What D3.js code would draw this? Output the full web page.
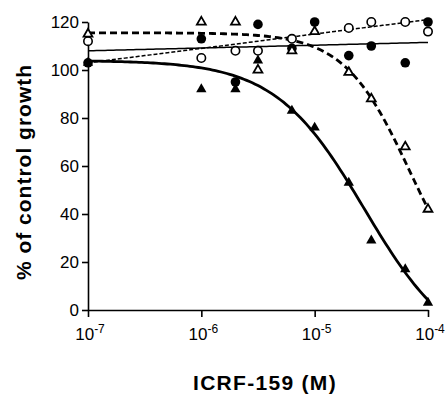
<!DOCTYPE html>
<html>
<head>
<meta charset="utf-8">
<script src="https://cdn.jsdelivr.net/npm/d3@7"></script>
<style>
body { margin: 0; background: #fff; }
svg { font-family: "Liberation Sans", Arial, sans-serif; }
</style>
</head>
<body>
<div id="plot"></div>
<script>
// concentrations (M)
var conc = [1e-7, 1e-6, 2e-6, 3.16e-6, 6.3e-6, 1e-5, 2e-5, 3.16e-5, 6.3e-5, 1e-4];

// % of control growth
var filledTri = [103, 92, 92, 104, 83, 76, 53, 29, 17, 3];
var openTri = [115, 120, 120, 100, 108, 116, 99, 88, 68, 42];
var filledCirc = [103, 113, 95, 119, 109, 120, 106, 110, 103, 120];
var openCirc = [112, 105, 108, 108, 113, null, 117.5, 120, 120, 116];

// fitted curves: bottom, top, logEC50, hill
var fitFilledTri = [-20, 104, -4.56, 1.1];
var fitOpenTri = [0, 115.5, -4.16, 1.5];
// straight fits in log x: value at 1e-7, value at 1e-4
var fitFilledCirc = [108, 111.5];
var fitOpenCirc = [103, 121];

var yTicks = [0, 20, 40, 60, 80, 100, 120];
var xTicks = [1e-7, 1e-6, 1e-5, 1e-4];
var xTickExp = ["-7", "-6", "-5", "-4"];

var margin = {top: 22, right: 17, bottom: 85, left: 88};
var width = 445 - margin.left - margin.right;
var height = 395 - margin.top - margin.bottom;

var x = d3.scaleLog().domain([1e-7, 1e-4]).range([0, width]);
var y = d3.scaleLinear().domain([0, 120]).range([height, 0]);

var svg = d3.select("#plot").append("svg")
	.attr("width", 445)
	.attr("height", 395)
	.append("g")
	.attr("transform", "translate(" + margin.left + "," + margin.top + ")");

// axes
var yAx = svg.append("g")
	.call(d3.axisLeft(y).tickValues(yTicks).tickSize(6).tickSizeOuter(0).tickPadding(3));
yAx.selectAll("text").style("font-size", "17px").attr("fill", "#000");

var xAx = svg.append("g")
	.attr("transform", "translate(0," + height + ")")
	.call(d3.axisBottom(x).tickValues(xTicks).tickFormat("").tickSize(7).tickSizeOuter(0));

[yAx, xAx].forEach(function(a) {
	a.selectAll("path, line").attr("stroke", "#000").attr("stroke-width", 1.6);
});

var lab = svg.append("g").selectAll("text")
	.data(xTicks)
	.enter().append("text")
	.attr("x", function(d) { return x(d) + 2; })
	.attr("y", height + 30)
	.attr("text-anchor", "middle")
	.style("font-size", "17px");
lab.append("tspan").text("10");
lab.append("tspan")
	.attr("dy", -7)
	.style("font-size", "12px")
	.text(function(d, i) { return xTickExp[i]; });

// titles
svg.append("text")
	.attr("x", width / 2 + 7)
	.attr("y", height + 80)
	.attr("text-anchor", "middle")
	.style("font-size", "21px")
	.style("font-weight", "bold")
	.style("letter-spacing", "1.3px")
	.text("ICRF-159 (M)");

svg.append("text")
	.attr("transform", "translate(" + (-57) + "," + (height / 2 + 6) + ") rotate(-90)")
	.attr("text-anchor", "middle")
	.style("font-size", "21px")
	.style("font-weight", "bold")
	.style("letter-spacing", "1px")
	.text("% of control growth");

// fitted curves
var logs = d3.range(0, 121).map(function(i) { return -7 + i * 3 / 120; });

function sigmoid(p) {
	return function(l) { return p[0] + (p[1] - p[0]) / (1 + Math.pow(10, (l - p[2]) * p[3])); };
}
function straight(p) {
	return function(l) { return p[0] + (p[1] - p[0]) * (l + 7) / 3; };
}

var line = d3.line()
	.x(function(d) { return x(Math.pow(10, d[0])); })
	.y(function(d) { return y(d[1]); });

var curves = [
	{f: straight(fitFilledCirc), w: 1.5, dash: null},
	{f: straight(fitOpenCirc), w: 1.5, dash: "4,2"},
	{f: sigmoid(fitOpenTri), w: 2.8, dash: "7,4"},
	{f: sigmoid(fitFilledTri), w: 2.8, dash: null}
];

svg.append("g")
	.selectAll("path")
	.data(curves)
	.enter().append("path")
	.attr("d", function(c) { return line(logs.map(function(l) { return [l, c.f(l)]; })); })
	.attr("fill", "none")
	.attr("stroke", "#000")
	.attr("stroke-width", function(c) { return c.w; })
	.attr("stroke-dasharray", function(c) { return c.dash; });

// points
function pts(vals) {
	return vals.map(function(v, i) { return {c: conc[i], v: v}; })
		.filter(function(d) { return d.v !== null; });
}

svg.append("g")
	.selectAll("circle")
	.data(pts(openCirc))
	.enter().append("circle")
	.attr("cx", function(d) { return x(d.c); })
	.attr("cy", function(d) { return y(d.v); })
	.attr("r", 4.2)
	.attr("fill", "#fff")
	.attr("stroke", "#000")
	.attr("stroke-width", 1.6);

svg.append("g")
	.selectAll("circle")
	.data(pts(filledCirc))
	.enter().append("circle")
	.attr("cx", function(d) { return x(d.c); })
	.attr("cy", function(d) { return y(d.v); })
	.attr("r", 4.8)
	.attr("fill", "#000");

var tri = d3.symbol().type(d3.symbolTriangle);

svg.append("g")
	.selectAll("path")
	.data(pts(openTri))
	.enter().append("path")
	.attr("d", tri.size(34)())
	.attr("transform", function(d) { return "translate(" + x(d.c) + "," + y(d.v) + ")"; })
	.attr("fill", "#fff")
	.attr("stroke", "#000")
	.attr("stroke-width", 1.8);

svg.append("g")
	.selectAll("path")
	.data(pts(filledTri))
	.enter().append("path")
	.attr("d", tri.size(46)())
	.attr("transform", function(d) { return "translate(" + x(d.c) + "," + y(d.v) + ")"; })
	.attr("fill", "#000");
</script>
</body>
</html>
